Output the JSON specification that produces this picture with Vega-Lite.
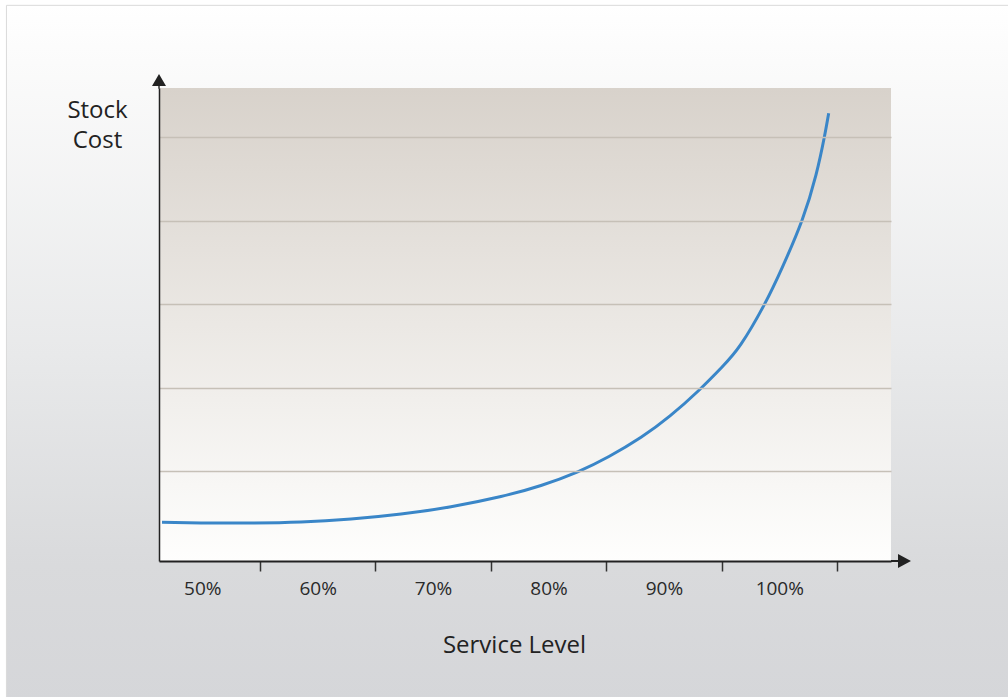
{
  "$schema": "https://vega.github.io/schema/vega-lite/v6.json",
  "width": 732,
  "height": 473,
  "autosize": "none",
  "padding": {"left": 159, "top": 88, "right": 117, "bottom": 136},
  "background": "#ffffff",
  "config": {"view": {"stroke": null}, "font": "Open Sans"},
  "layer": [
    {
      "data": {"values": [{}]},
      "mark": {
        "type": "rect",
        "stroke": "#dadada",
        "strokeWidth": 1,
        "color": {
          "gradient": "linear", "x1": 0, "y1": 0, "x2": 0, "y2": 1,
          "stops": [
            {"offset": 0, "color": "#ffffff"},
            {"offset": 0.08, "color": "#fbfbfb"},
            {"offset": 0.5, "color": "#e8e9ea"},
            {"offset": 0.8, "color": "#d9dadc"},
            {"offset": 1, "color": "#d5d6d9"}
          ]
        }
      },
      "encoding": {
        "x": {"datum": 33.03, "type": "quantitative", "scale": {"domain": [46.25, 109.68], "nice": false, "zero": false}},
        "x2": {"datum": 120.51},
        "y": {"datum": 6.582, "type": "quantitative", "scale": {"domain": [-0.079, 5.591], "nice": false, "zero": false}},
        "y2": {"datum": -1.806}
      }
    },
    {
      "data": {"values": [{}]},
      "mark": {
        "type": "rect",
        "color": {
          "gradient": "linear", "x1": 0, "y1": 0, "x2": 0, "y2": 1,
          "stops": [
            {"offset": 0, "color": "#d8d2cb"},
            {"offset": 0.5, "color": "#ebe8e4"},
            {"offset": 1, "color": "#fefefd"}
          ]
        }
      }
    },
    {
      "data": {
        "values": [
          {"service": 46.51, "cost": 0.385},
          {"service": 49.89, "cost": 0.377},
          {"service": 54.22, "cost": 0.376},
          {"service": 58.55, "cost": 0.388},
          {"service": 62.89, "cost": 0.424},
          {"service": 67.22, "cost": 0.484},
          {"service": 71.55, "cost": 0.572},
          {"service": 75.88, "cost": 0.694},
          {"service": 79.35, "cost": 0.826},
          {"service": 82.53, "cost": 0.99},
          {"service": 85.24, "cost": 1.173},
          {"service": 88.02, "cost": 1.404},
          {"service": 90.53, "cost": 1.66},
          {"service": 93.04, "cost": 1.968},
          {"service": 95.0, "cost": 2.24},
          {"service": 96.68, "cost": 2.52},
          {"service": 98.70, "cost": 2.994},
          {"service": 100.29, "cost": 3.45},
          {"service": 101.97, "cost": 4.006},
          {"service": 103.18, "cost": 4.549},
          {"service": 103.90, "cost": 5.0},
          {"service": 104.28, "cost": 5.289}
        ]
      },
      "mark": {"type": "line", "color": "#3a86c8", "strokeWidth": 3, "interpolate": "natural", "clip": false},
      "encoding": {
        "x": {
          "field": "service", "type": "quantitative",
          "scale": {"domain": [46.25, 109.68], "nice": false, "zero": false},
          "axis": {
            "values": [55, 65, 75, 85, 95, 105],
            "labelExpr": "(datum.value - 5) + '%'",
            "labelOffset": -57.7,
            "labelFlush": false,
            "labelOverlap": false,
            "labelFontSize": 19,
            "labelColor": "#2a2a2a",
            "labelBaseline": "alphabetic",
            "labelPadding": 23,
            "tickSize": 10,
            "tickColor": "#333333",
            "tickWidth": 1.5,
            "domainColor": "#222222",
            "domainWidth": 2,
            "grid": false,
            "title": "Service Level",
            "titleX": 355,
            "titleY": 91,
            "titleAlign": "center",
            "titleBaseline": "alphabetic",
            "titleFontSize": 24,
            "titleFontWeight": "normal",
            "titleColor": "#222222",
            "zindex": 2
          }
        },
        "y": {
          "field": "cost", "type": "quantitative",
          "scale": {"domain": [-0.079, 5.591], "nice": false, "zero": false},
          "axis": {
            "values": [1, 2, 3, 4, 5],
            "labels": false,
            "ticks": false,
            "grid": true,
            "gridColor": "#c6c0b7",
            "gridWidth": 1.3,
            "domainColor": "#222222",
            "domainWidth": 1.5,
            "title": ["Stock", "Cost"],
            "titleAngle": 0,
            "titleAlign": "center",
            "titleBaseline": "alphabetic",
            "titleX": -62,
            "titleY": 29,
            "titleLineHeight": 30,
            "titleFontSize": 24,
            "titleFontWeight": "normal",
            "titleColor": "#222222",
            "zindex": 1
          }
        }
      }
    },
    {
      "data": {"values": [{}]},
      "mark": {
        "type": "point", "filled": true, "opacity": 1, "color": "#222222", "size": 196, "strokeWidth": 0,
        "shape": "M0,-0.14L1,-0.14L1,-1L2.857,0L1,1L1,0.14L0,0.14Z"
      },
      "encoding": {
        "x": {"datum": 109.68, "type": "quantitative", "scale": {"domain": [46.25, 109.68], "nice": false, "zero": false}},
        "y": {"datum": -0.079, "type": "quantitative", "scale": {"domain": [-0.079, 5.591], "nice": false, "zero": false}}
      }
    },
    {
      "data": {"values": [{}]},
      "mark": {
        "type": "point", "filled": true, "opacity": 1, "color": "#222222", "size": 196, "strokeWidth": 0,
        "shape": "M-0.1,0.1L-0.1,-0.286L-1,-0.286L0,-2L1,-0.286L0.1,-0.286L0.1,0.1Z"
      },
      "encoding": {
        "x": {"datum": 46.25, "type": "quantitative", "scale": {"domain": [46.25, 109.68], "nice": false, "zero": false}},
        "y": {"datum": 5.591, "type": "quantitative", "scale": {"domain": [-0.079, 5.591], "nice": false, "zero": false}}
      }
    }
  ]
}
